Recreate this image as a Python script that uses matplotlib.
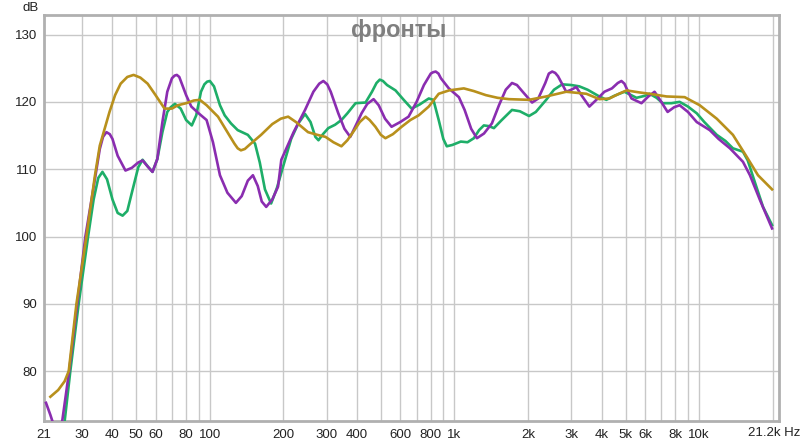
import numpy as np
import matplotlib
matplotlib.use("Agg")
import matplotlib.pyplot as plt

# frequency responses (Hz, dB)
purple_f = [21.4, 22.3, 23.0, 24.0, 24.8, 26.6, 28.7, 31.0, 33.9, 35.5, 36.6, 37.8, 39, 40, 42,
            45.2, 48, 51, 53.1, 56, 58.3, 61, 64, 67, 70, 71.8, 73.3, 75, 77, 80, 84, 90, 97,
            103, 110, 118, 127.8, 135, 143, 150, 157, 163, 170, 180, 190, 196, 220, 245, 265,
            280, 291, 302, 312, 335, 355, 375, 395, 417, 440, 467, 490, 520, 553, 600, 649, 700,
            750, 800, 818, 838, 860, 880, 948, 1042, 1100, 1170, 1235, 1320, 1422, 1520, 1620,
            1718, 1800, 1900, 2076, 2200, 2350, 2430, 2508, 2580, 2650, 2862, 3000, 3148, 3300,
            3558, 3800, 4099, 4400, 4650, 4812, 4950, 5050, 5290, 5811, 6200, 6573, 7000, 7431,
            7900, 8321, 9000, 9775, 11050, 12000, 13360, 15100, 16130, 17730, 19860]
purple_db = [75.3, 73.5, 72.0, 71.0, 72.0, 80.0, 90.0, 100.0, 108.5, 113.0, 114.8, 115.5, 115.2,
             114.5, 112.0, 109.8, 110.2, 111.0, 111.3, 110.3, 109.6, 111.5, 117.0, 121.5, 123.5,
             123.9, 124.0, 123.7, 122.6, 121.0, 119.3, 118.3, 117.3, 114.0, 109.1, 106.5, 105.0,
             106.0, 108.3, 109.1, 107.5, 105.2, 104.4, 105.5, 107.4, 111.4, 115.5, 118.8, 121.5,
             122.7, 123.1, 122.6, 121.5, 118.3, 116.0, 114.8, 116.5, 118.3, 119.7, 120.4, 119.5,
             117.5, 116.3, 117.0, 117.8, 120.0, 122.5, 124.2, 124.4, 124.5, 124.2, 123.5, 122.0,
             120.7, 118.8, 116.0, 114.6, 115.3, 116.8, 119.5, 121.8, 122.8, 122.5, 121.5, 119.9,
             120.5, 122.8, 124.2, 124.5, 124.3, 123.8, 121.5, 121.8, 122.2, 121.0, 119.3, 120.3,
             121.5, 122.0, 122.8, 123.1, 122.7, 122.0, 120.5, 119.8, 120.8, 121.5, 120.0, 118.5,
             119.2, 119.5, 118.5, 117.0, 115.8, 114.5, 113.1, 111.1, 109.1, 105.4, 101.2]

green_f = [25.4, 26.9, 29.1, 31.8, 33.5, 35, 36.4, 38, 40, 42, 44, 46, 48, 51, 53.1, 55.5, 58.3,
           61, 64, 67, 69.2, 72, 76, 80, 84.4, 88, 92, 95, 97.5, 100, 104, 110, 115, 122, 130,
           143, 153, 160, 168, 178, 188, 203, 215, 230, 245, 258, 270, 278, 290, 305, 325, 345,
           365, 394, 433, 460, 480, 495, 510, 530, 574, 620, 668, 720, 785, 820, 862, 900, 930,
           980, 1061, 1130, 1200, 1260, 1318, 1380, 1449, 1550, 1718, 1850, 2017, 2150, 2370,
           2550, 2755, 3000, 3238, 3500, 3909, 4175, 4500, 4950, 5546, 6000, 6270, 6700, 7090,
           7700, 8321, 9000, 9775, 10500, 11800, 12800, 13740, 15100, 15800, 16600, 18240, 19860]
green_db = [72.0, 80.0, 90.0, 100.0, 105.5, 108.7, 109.6, 108.5, 105.5, 103.5, 103.1, 103.8,
            106.5, 110.3, 111.4, 110.5, 109.6, 111.5, 115.5, 118.5, 119.2, 119.7, 119.0, 117.3,
            116.5, 118.0, 121.5, 122.6, 123.0, 123.1, 122.3, 119.5, 118.0, 116.8, 115.8, 115.1,
            113.8, 111.0, 107.0, 104.9, 107.2, 111.4, 114.5, 116.8, 118.2, 117.0, 114.8, 114.3,
            115.2, 116.1, 116.6, 117.3, 118.3, 119.8, 119.9, 121.5, 122.8, 123.3, 123.1, 122.5,
            121.7, 120.3, 119.0, 119.6, 120.5, 120.3, 117.3, 114.5, 113.4, 113.6, 114.1, 114.0,
            114.6, 115.8, 116.5, 116.4, 116.1, 117.2, 118.8, 118.6, 117.9, 118.5, 120.3, 121.8,
            122.6, 122.5, 122.3, 121.8, 120.8, 120.3, 120.9, 121.5, 120.6, 120.9, 121.2, 120.6,
            119.8, 119.8, 120.0, 119.3, 118.3, 117.0, 115.1, 114.2, 113.1, 112.6, 111.3, 108.9,
            104.4, 101.7]

gold_f = [22.3, 24, 25.5, 26.5, 28.5, 31.3, 33.9, 35.5, 38.9, 41, 43.2, 46, 48.8, 52, 55.7, 60,
          65.3, 70, 74, 80, 86, 91, 97, 108, 118, 126, 130, 134, 139, 145, 162, 180, 195, 209,
          225, 252, 275, 297, 320, 345, 365, 390, 410, 433, 450, 475, 500, 522, 560, 608, 660,
          714, 785, 862, 950, 1092, 1200, 1343, 1500, 1670, 2017, 2370, 2862, 3459, 3909, 4296,
          4700, 5050, 5700, 6270, 7360, 8725, 10050, 11800, 13740, 15670, 17400, 19860]
gold_db = [76.2, 77.2, 78.5, 80.0, 90.0, 100.0, 109.0, 113.5, 118.5, 121.0, 122.7, 123.7, 124.0,
           123.6, 122.7, 121.0, 119.0, 119.0, 119.5, 119.8, 120.2, 120.3, 119.5, 117.8, 115.5,
           113.8, 113.1, 112.8, 113.0, 113.6, 115.1, 116.7, 117.5, 117.8, 117.0, 115.5, 115.1,
           114.8, 114.0, 113.4, 114.3, 115.8, 117.0, 117.8, 117.3, 116.3, 115.1, 114.6, 115.2,
           116.3, 117.3, 118.0, 119.3, 121.2, 121.7, 122.0, 121.6, 121.0, 120.6, 120.4, 120.3,
           120.8, 121.5, 121.2, 120.4, 120.5, 121.2, 121.7, 121.4, 121.2, 120.8, 120.7, 119.5,
           117.5, 115.1, 111.8, 109.1, 107.0]

grid_f = [30, 40, 50, 60, 70, 80, 90, 100, 200, 300, 400, 500, 600, 700, 800, 900,
          1000, 2000, 3000, 4000, 5000, 6000, 7000, 8000, 9000, 10000, 20000]
label_f = [21, 30, 40, 50, 60, 80, 100, 200, 300, 400, 600, 800,
           1000, 2000, 3000, 4000, 5000, 6000, 8000, 10000]
label_txt = ["21", "30", "40", "50", "60", "80", "100", "200", "300", "400", "600", "800",
             "1k", "2k", "3k", "4k", "5k", "6k", "8k", "10k"]
y_ticks = [80, 90, 100, 110, 120, 130]

plt.rcParams['font.family'] = ['Liberation Sans', 'DejaVu Sans']

fig = plt.figure(figsize=(8, 4.43), dpi=100)
ax = fig.add_axes([44 / 800, 22 / 443, 735 / 800, 406 / 443])

for g in grid_f:
    ax.axvline(g, color="#c8c8c8", lw=1.0, zorder=0)
for y in y_ticks:
    ax.axhline(y, color="#c8c8c8", lw=1.0, zorder=0)

ax.plot(green_f, green_db, color="#1eae68", lw=1.9, zorder=3)
ax.plot(purple_f, purple_db, color="#8a2db0", lw=1.9, zorder=3)
ax.plot(gold_f, gold_db, color="#b8901c", lw=1.9, zorder=3)

ax.set_xscale("log")
ax.set_xlim(21, 21200)
ax.set_ylim(72.6, 132.9)
ax.minorticks_off()
ax.set_xticks(label_f)
ax.set_xticklabels(label_txt)
ax.set_yticks(y_ticks)
ax.tick_params(length=0, labelsize=9.5, colors="#222222")
ax.tick_params(axis="x", pad=6)
ax.tick_params(axis="y", pad=5)

for s in ax.spines.values():
    s.set_color("#b0b0b0")
    s.set_linewidth(2.0)

fig.text(774 / 800, 1 - 433 / 443, "21.2k Hz", ha="center", va="center",
         fontsize=9.5, color="#222222")
fig.text(31 / 800, 1 - 8 / 443, "dB", ha="center", va="center",
         fontsize=9.5, color="#222222")
ax.text(0.483, 0.99, "фронты", transform=ax.transAxes, ha="center", va="top",
        fontsize=17, fontweight="bold", color="#7f7f7f", zorder=4)

fig.savefig("out.png", dpi=100)
